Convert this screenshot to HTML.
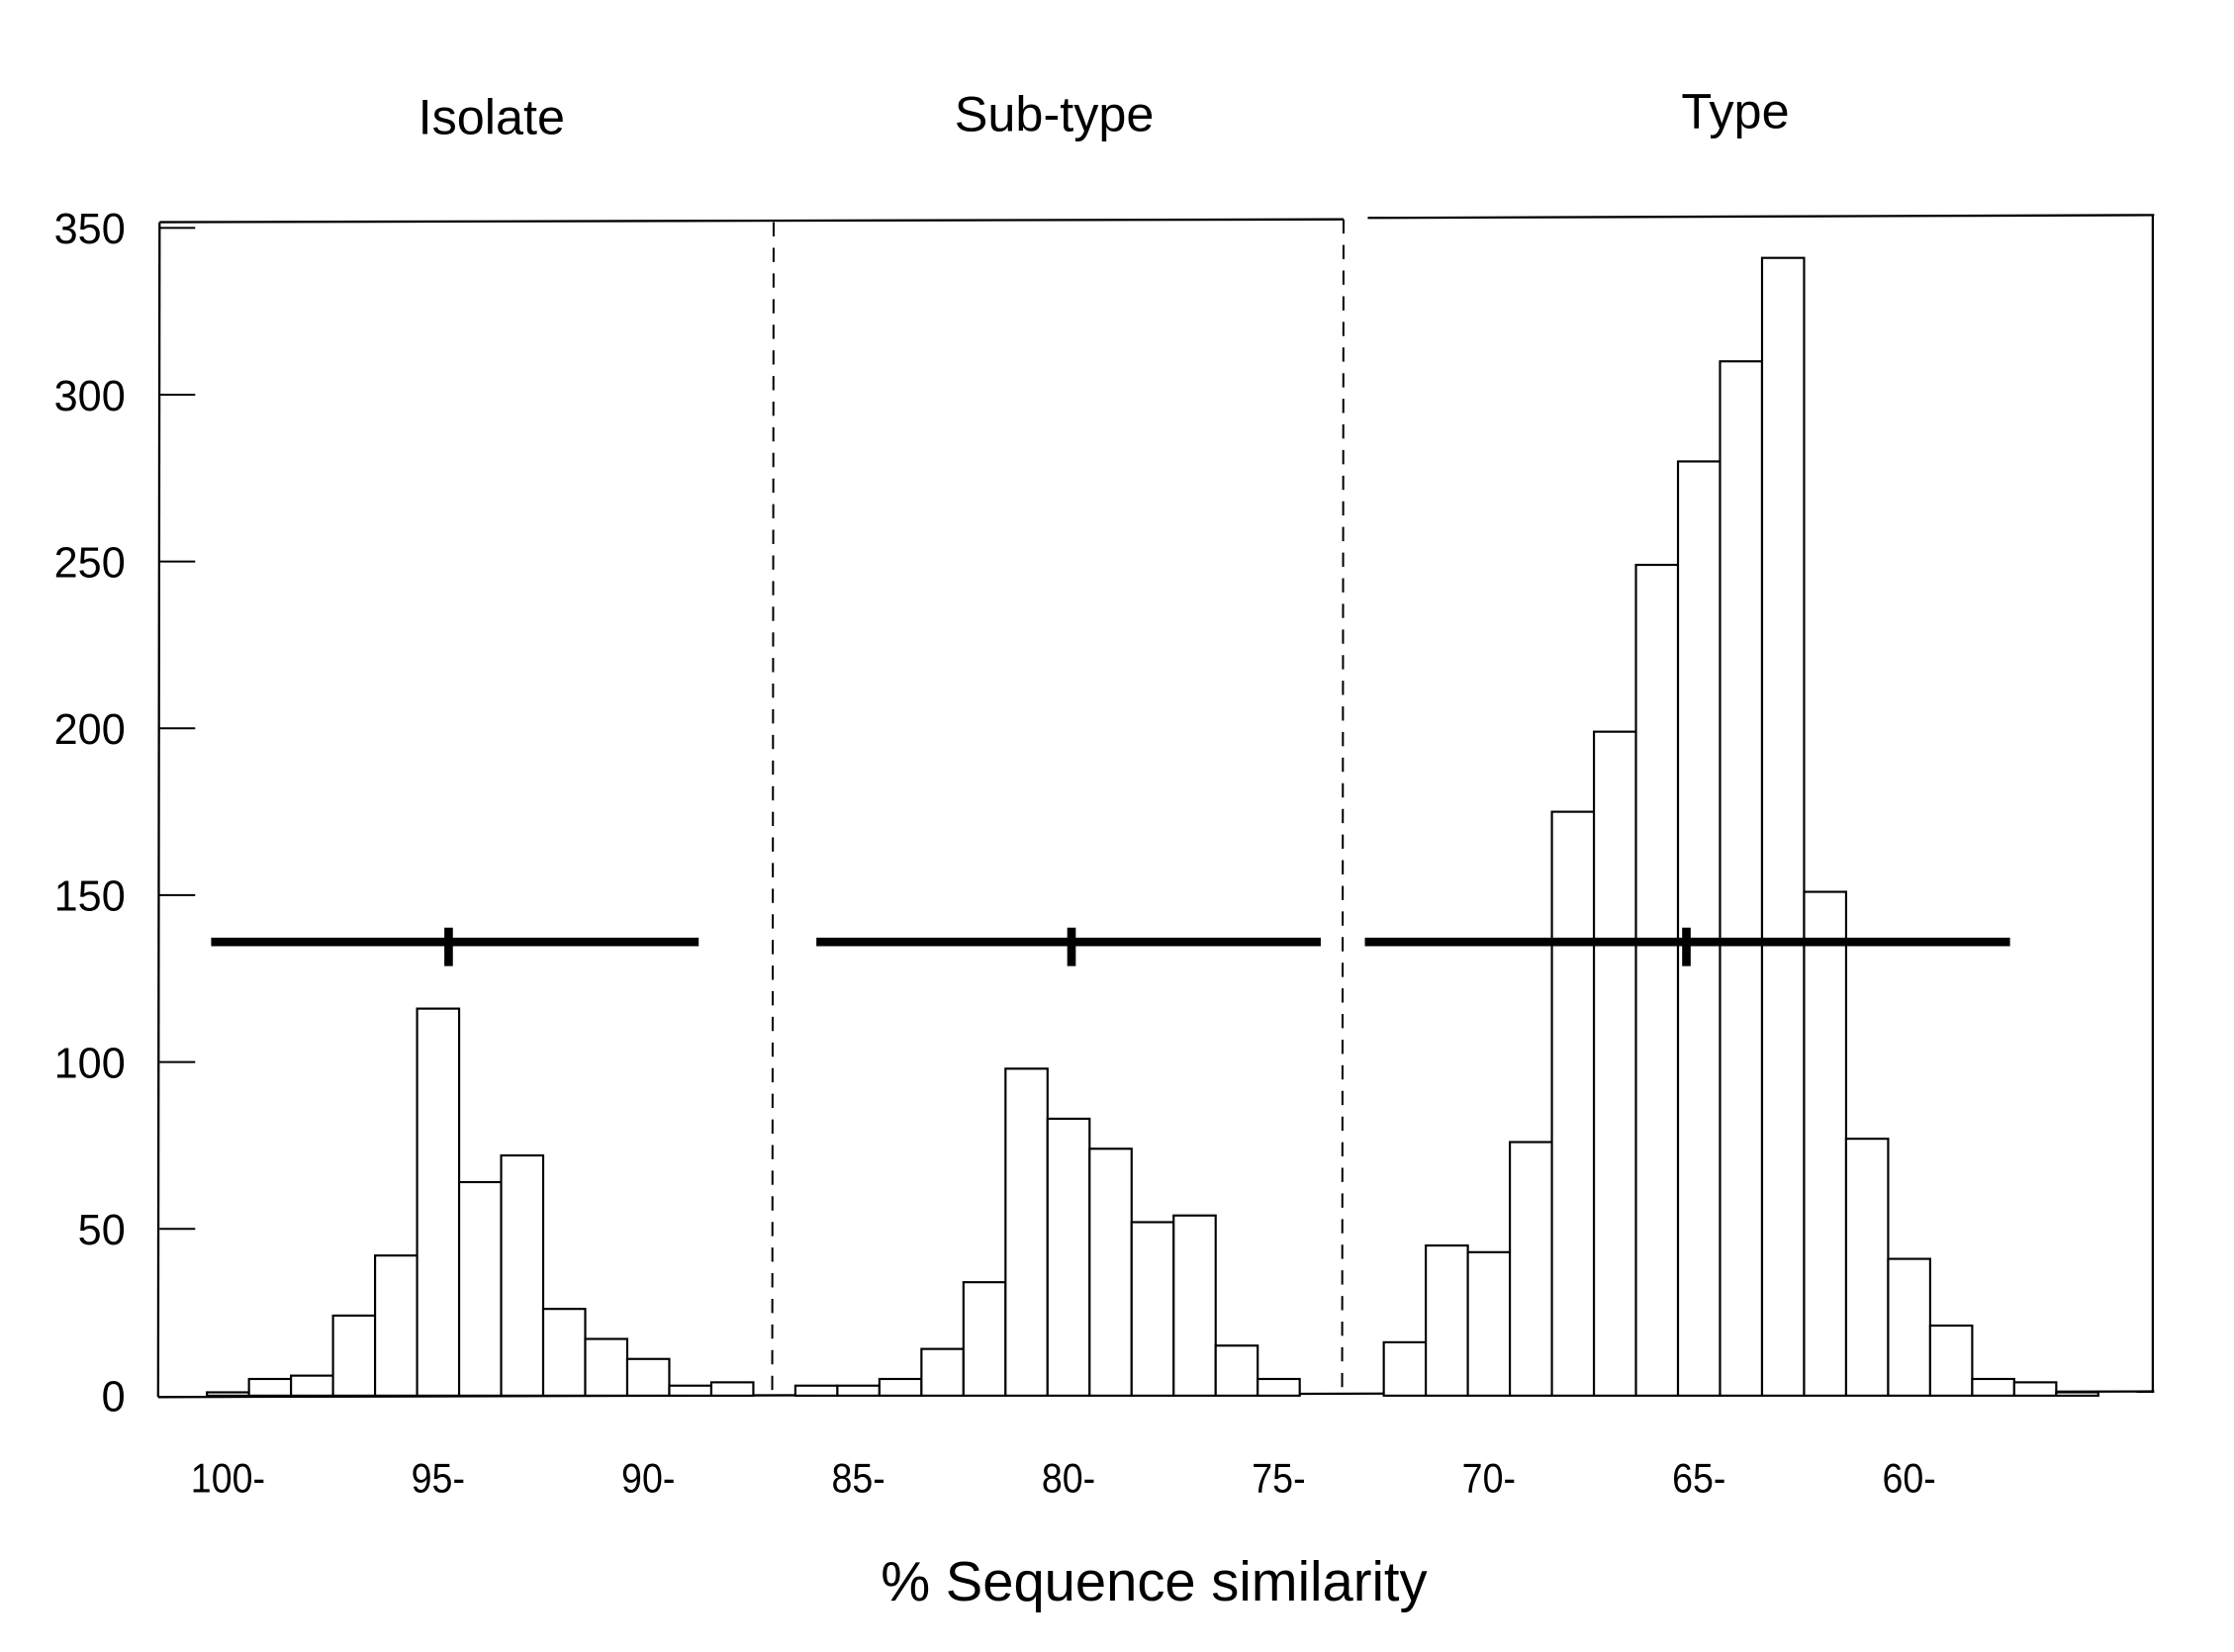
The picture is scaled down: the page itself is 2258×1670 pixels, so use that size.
<!DOCTYPE html>
<html><head><meta charset="utf-8"><style>
html,body{margin:0;padding:0;background:#fff;}
svg{display:block;font-family:"Liberation Sans",Arial,sans-serif;}
</style></head><body>
<svg id="chart" width="2258" height="1670" viewBox="0 0 1568 1160" preserveAspectRatio="none" xmlns="http://www.w3.org/2000/svg">
<rect width="1568" height="1160" fill="#fff"/>
<g id="frame" fill="none" stroke="#000" stroke-width="1.6">
<line x1="112" y1="156" x2="943" y2="154"/>
<line x1="960" y1="153" x2="1512" y2="151"/>
<line x1="112" y1="156" x2="111" y2="981"/>
<line x1="1511" y1="151" x2="1511" y2="977"/>
<line x1="111" y1="981" x2="1512" y2="977"/>
<line x1="543" y1="156" x2="542" y2="981" stroke-dasharray="10,8" stroke-width="1.4"/>
<line x1="943" y1="154" x2="942" y2="980" stroke-dasharray="10,8" stroke-width="1.4"/>
</g>
<g id="yaxis"></g>
<g id="xaxis"></g>
<g id="bars"></g>
<g id="ranges"></g>
<text x="345" y="94" font-size="35" text-anchor="middle">Isolate</text>
<text x="740" y="92" font-size="35" text-anchor="middle">Sub-type</text>
<text x="1218" y="90" font-size="35" text-anchor="middle">Type</text>
<text x="810" y="1124" font-size="39" text-anchor="middle">% Sequence similarity</text>
</svg>
<script>
// bin i covers similarity (100.5 - i) down to (99.5 - i)
const counts = [1,5,6,24,42,116,64,72,26,17,11,3,4, 0, 3,3,5,14,34,98,83,74,52,54,15,5, 0,0, 16,45,43,76,175,199,249,280,310,341,151,77,41,21,5,4,1];
const yTicks = [0,50,100,150,200,250,300,350];
const xTicks = [100,95,90,85,80,75,70,65,60];
const xTickLabels = ["100-","95-","90-","85-","80-","75-","70-","65-","60-"];
const rangeNames = ["isolate","subtype","type"];
const rangeLo = [100.4, 86.0, 72.95];
const rangeHi = [88.8, 74.0, 57.6];
const rangeMean = [94.75, 79.93, 65.3];
const rangeLevel = [136, 136, 136];

const NS = "http://www.w3.org/2000/svg";
const xs = s => 160 + (100 - s) * 29.5;
const ys = v => 980 - v * (820 / 350);
function mk(tag, attrs, parent){ const e=document.createElementNS(NS,tag); for(const k in attrs) e.setAttribute(k,attrs[k]); parent.appendChild(e); return e; }

const yg = document.getElementById('yaxis');
yTicks.forEach(v=>{
  const t = mk('line',{x1:112,y1:ys(v),x2:v===0?112:137,y2:ys(v),stroke:'#000','stroke-width':1.4},yg);
  
  
  const l = mk('text',{x:88,y:ys(v)+11,'font-size':30,'text-anchor':'end'},yg);
  l.textContent = v;
  
  
});
const xg = document.getElementById('xaxis');
xTicks.forEach((s,i)=>{
  const l = mk('text',{x:xs(s),y:1048,'font-size':29,'text-anchor':'middle',transform:'translate('+xs(s)+',0) scale(0.9,1) translate('+(-xs(s))+',0)'},xg);
  l.textContent = xTickLabels[i];
  
  
});
const bg = document.getElementById('bars');
counts.forEach((c,i)=>{
  if(c<=0) return;
  const x0 = xs(100.5 - i), x1 = xs(99.5 - i);
  const r = mk('rect',{x:x0,y:ys(c),width:x1-x0,height:ys(0)-ys(c),fill:'#fff',stroke:'#000','stroke-width':1.5},bg);
  
  
});
const rg = document.getElementById('ranges');
rangeNames.forEach((n,i)=>{
  const y = ys(rangeLevel[i]);
  const h = mk('line',{x1:xs(rangeLo[i]),y1:y,x2:xs(rangeHi[i]),y2:y,stroke:'#000','stroke-width':6},rg);
  
  
  const m = mk('line',{x1:xs(rangeMean[i]),y1:y-10,x2:xs(rangeMean[i]),y2:y+17,stroke:'#000','stroke-width':6},rg);
  
  
});
</script>
</body></html>
